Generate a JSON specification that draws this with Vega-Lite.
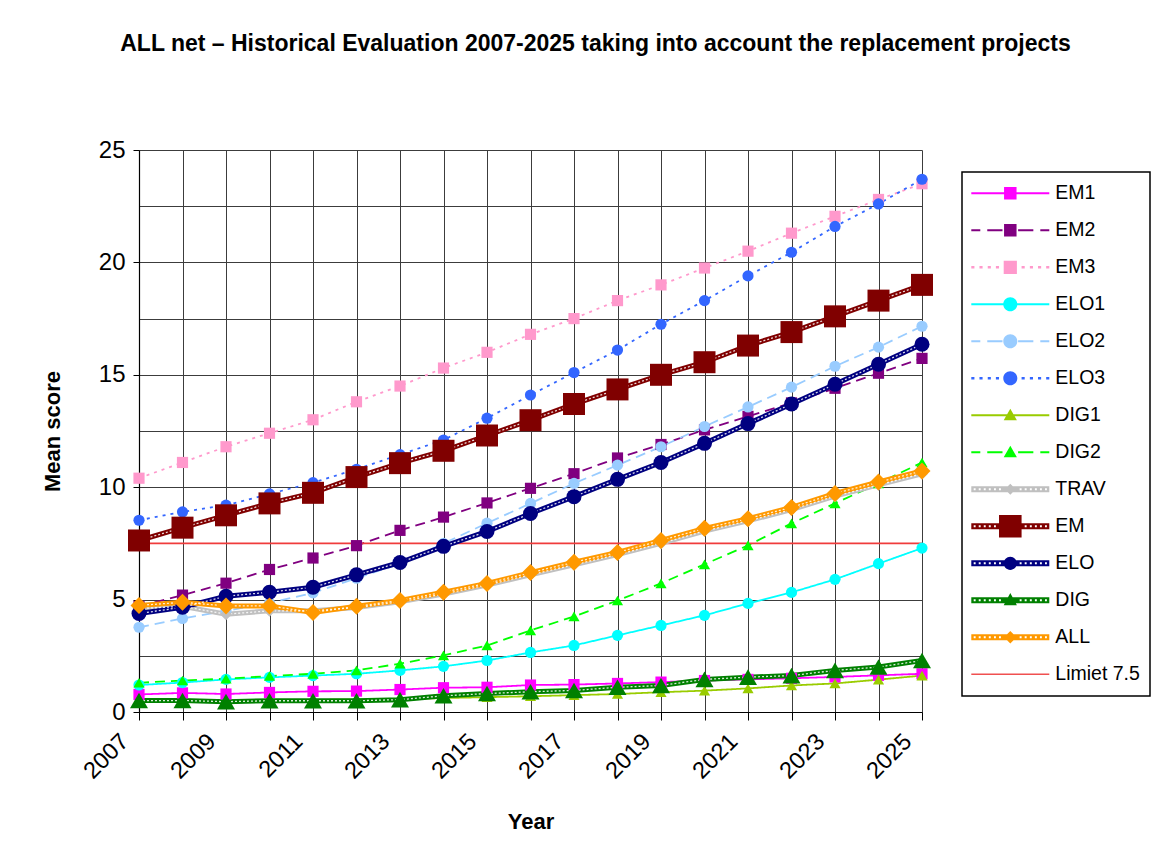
{
  "$schema": "https://vega.github.io/schema/vega-lite/v6.json",
  "width": 783,
  "height": 562,
  "autosize": "none",
  "padding": {"left": 139, "top": 150, "right": 236, "bottom": 150},
  "background": "white",
  "title": {
    "text": "ALL net – Historical Evaluation 2007-2025 taking into account the replacement projects",
    "font": "Liberation Sans",
    "fontSize": 23,
    "fontWeight": "bold",
    "color": "black",
    "anchor": "middle",
    "baseline": "alphabetic",
    "offset": 64,
    "dx": 65
  },
  "data": {
    "values": [
      {"year": 2007, "EM1": 0.78, "EM2": 4.7, "EM3": 10.4, "ELO1": 1.2, "ELO2": 3.77, "ELO3": 8.53, "DIG1": 0.48, "DIG2": 1.3, "TRAV": 4.6, "EM": 7.63, "ELO": 4.38, "DIG": 0.51, "ALL": 4.74},
      {"year": 2008, "EM1": 0.85, "EM2": 5.2, "EM3": 11.1, "ELO1": 1.31, "ELO2": 4.16, "ELO3": 8.9, "DIG1": 0.5, "DIG2": 1.4, "TRAV": 4.7, "EM": 8.2, "ELO": 4.66, "DIG": 0.51, "ALL": 4.88},
      {"year": 2009, "EM1": 0.8, "EM2": 5.73, "EM3": 11.8, "ELO1": 1.45, "ELO2": 4.5, "ELO3": 9.2, "DIG1": 0.5, "DIG2": 1.48, "TRAV": 4.35, "EM": 8.75, "ELO": 5.15, "DIG": 0.46, "ALL": 4.72},
      {"year": 2010, "EM1": 0.87, "EM2": 6.34, "EM3": 12.4, "ELO1": 1.54, "ELO2": 4.85, "ELO3": 9.7, "DIG1": 0.52, "DIG2": 1.6, "TRAV": 4.5, "EM": 9.28, "ELO": 5.33, "DIG": 0.5, "ALL": 4.72},
      {"year": 2011, "EM1": 0.92, "EM2": 6.85, "EM3": 13.0, "ELO1": 1.62, "ELO2": 5.3, "ELO3": 10.2, "DIG1": 0.54, "DIG2": 1.7, "TRAV": 4.5, "EM": 9.75, "ELO": 5.55, "DIG": 0.5, "ALL": 4.43},
      {"year": 2012, "EM1": 0.93, "EM2": 7.4, "EM3": 13.8, "ELO1": 1.7, "ELO2": 5.95, "ELO3": 10.8, "DIG1": 0.55, "DIG2": 1.85, "TRAV": 4.65, "EM": 10.45, "ELO": 6.1, "DIG": 0.5, "ALL": 4.7},
      {"year": 2013, "EM1": 1.0, "EM2": 8.08, "EM3": 14.5, "ELO1": 1.85, "ELO2": 6.6, "ELO3": 11.45, "DIG1": 0.58, "DIG2": 2.15, "TRAV": 4.9, "EM": 11.07, "ELO": 6.65, "DIG": 0.55, "ALL": 4.96},
      {"year": 2014, "EM1": 1.08, "EM2": 8.67, "EM3": 15.3, "ELO1": 2.03, "ELO2": 7.5, "ELO3": 12.1, "DIG1": 0.62, "DIG2": 2.52, "TRAV": 5.25, "EM": 11.62, "ELO": 7.37, "DIG": 0.72, "ALL": 5.33},
      {"year": 2015, "EM1": 1.1, "EM2": 9.3, "EM3": 16.0, "ELO1": 2.29, "ELO2": 8.4, "ELO3": 13.07, "DIG1": 0.66, "DIG2": 2.96, "TRAV": 5.65, "EM": 12.3, "ELO": 8.03, "DIG": 0.82, "ALL": 5.72},
      {"year": 2016, "EM1": 1.2, "EM2": 9.95, "EM3": 16.8, "ELO1": 2.65, "ELO2": 9.28, "ELO3": 14.1, "DIG1": 0.7, "DIG2": 3.63, "TRAV": 6.1, "EM": 12.98, "ELO": 8.83, "DIG": 0.9, "ALL": 6.2},
      {"year": 2017, "EM1": 1.22, "EM2": 10.6, "EM3": 17.5, "ELO1": 2.96, "ELO2": 10.17, "ELO3": 15.1, "DIG1": 0.75, "DIG2": 4.25, "TRAV": 6.55, "EM": 13.7, "ELO": 9.58, "DIG": 0.96, "ALL": 6.66},
      {"year": 2018, "EM1": 1.27, "EM2": 11.3, "EM3": 18.3, "ELO1": 3.41, "ELO2": 10.98, "ELO3": 16.1, "DIG1": 0.8, "DIG2": 4.96, "TRAV": 7.0, "EM": 14.35, "ELO": 10.35, "DIG": 1.1, "ALL": 7.1},
      {"year": 2019, "EM1": 1.33, "EM2": 11.9, "EM3": 19.0, "ELO1": 3.85, "ELO2": 11.8, "ELO3": 17.25, "DIG1": 0.88, "DIG2": 5.72, "TRAV": 7.5, "EM": 15.0, "ELO": 11.1, "DIG": 1.18, "ALL": 7.63},
      {"year": 2020, "EM1": 1.4, "EM2": 12.55, "EM3": 19.75, "ELO1": 4.3, "ELO2": 12.7, "ELO3": 18.3, "DIG1": 0.95, "DIG2": 6.57, "TRAV": 8.05, "EM": 15.56, "ELO": 11.95, "DIG": 1.45, "ALL": 8.17},
      {"year": 2021, "EM1": 1.45, "EM2": 13.15, "EM3": 20.5, "ELO1": 4.83, "ELO2": 13.57, "ELO3": 19.4, "DIG1": 1.05, "DIG2": 7.41, "TRAV": 8.5, "EM": 16.3, "ELO": 12.83, "DIG": 1.55, "ALL": 8.6},
      {"year": 2022, "EM1": 1.5, "EM2": 13.75, "EM3": 21.3, "ELO1": 5.32, "ELO2": 14.45, "ELO3": 20.45, "DIG1": 1.18, "DIG2": 8.39, "TRAV": 9.0, "EM": 16.9, "ELO": 13.7, "DIG": 1.62, "ALL": 9.1},
      {"year": 2023, "EM1": 1.56, "EM2": 14.4, "EM3": 22.05, "ELO1": 5.9, "ELO2": 15.38, "ELO3": 21.6, "DIG1": 1.27, "DIG2": 9.28, "TRAV": 9.6, "EM": 17.6, "ELO": 14.58, "DIG": 1.85, "ALL": 9.72},
      {"year": 2024, "EM1": 1.63, "EM2": 15.07, "EM3": 22.8, "ELO1": 6.6, "ELO2": 16.23, "ELO3": 22.6, "DIG1": 1.44, "DIG2": 10.17, "TRAV": 10.1, "EM": 18.3, "ELO": 15.47, "DIG": 2.0, "ALL": 10.23},
      {"year": 2025, "EM1": 1.7, "EM2": 15.73, "EM3": 23.5, "ELO1": 7.29, "ELO2": 17.16, "ELO3": 23.7, "DIG1": 1.62, "DIG2": 11.1, "TRAV": 10.6, "EM": 19.0, "ELO": 16.36, "DIG": 2.29, "ALL": 10.72}
    ]
  },
  "transform": [
    {"fold": ["EM1", "EM2", "EM3", "ELO1", "ELO2", "ELO3", "DIG1", "DIG2", "TRAV", "EM", "ELO", "DIG", "ALL"], "as": ["series", "value"]}
  ],
  "encoding": {
    "x": {
      "field": "year",
      "type": "quantitative",
      "scale": {"domain": [2007, 2025], "nice": false, "zero": false},
      "axis": {
        "title": "Year",
        "titleFontSize": 22,
        "titleFontWeight": "bold",
        "titleX": 391.5,
        "titleY": 109,
        "titleBaseline": "middle",
        "values": [2007, 2008, 2009, 2010, 2011, 2012, 2013, 2014, 2015, 2016, 2017, 2018, 2019, 2020, 2021, 2022, 2023, 2024, 2025],
        "format": "d",
        "labelExpr": "datum.value % 2 == 1 ? datum.label : ''",
        "labelAngle": -45,
        "labelAlign": "right",
        "labelBaseline": "top",
        "labelFontSize": 23.5,
        "labelOffset": -23,
        "labelPadding": 9,
        "labelFlush": false,
        "labelOverlap": false,
        "labelBound": false,
        "tickSize": 8,
        "grid": true
      }
    },
    "y": {
      "field": "value",
      "type": "quantitative",
      "scale": {"domain": [0, 25], "nice": false},
      "axis": {
        "title": "Mean score",
        "titleFontSize": 22,
        "titleFontWeight": "bold",
        "titleAngle": -90,
        "titleX": -87,
        "titleY": 281,
        "titleAlign": "center",
        "titleBaseline": "middle",
        "values": [0, 2.5, 5, 7.5, 10, 12.5, 15, 17.5, 20, 22.5, 25],
        "labelExpr": "datum.value % 5 == 0 ? datum.label : ''",
        "labelFontSize": 24,
        "labelPadding": 8,
        "labelOverlap": false,
        "labelFlush": false,
        "tickSize": 6,
        "tickOpacity": {"condition": {"test": "datum.value % 5 == 0", "value": 1}, "value": 0},
        "grid": true
      }
    }
  },
  "layer": [
    {
      "transform": [{"filter": {"field": "series", "oneOf": ["EM1", "EM2", "EM3", "ELO1", "ELO2", "ELO3", "DIG1", "DIG2"]}}],
      "mark": {"type": "line", "strokeWidth": 1.8},
      "encoding": {
        "color": {
          "field": "series", "type": "nominal", "legend": null,
          "scale": {"domain": ["EM1", "EM2", "EM3", "ELO1", "ELO2", "ELO3", "DIG1", "DIG2"],
                    "range": ["#FF00FF", "#800080", "#FF99CC", "#00FFFF", "#99CCFF", "#3366FF", "#99CC00", "#00FF00"]}
        },
        "strokeDash": {
          "field": "series", "type": "nominal", "legend": null,
          "scale": {"domain": ["EM1", "EM2", "EM3", "ELO1", "ELO2", "ELO3", "DIG1", "DIG2"],
                    "range": [[1, 0], [10, 6], [3, 5], [1, 0], [10, 6], [3, 5], [1, 0], [10, 6]]}
        }
      }
    },
    {
      "data": {"values": [{"year": 2007, "limit": 7.5}, {"year": 2025, "limit": 7.5}]},
      "mark": {"type": "line", "strokeWidth": 1.6, "color": "#F03C3C"},
      "encoding": {"y": {"field": "limit", "type": "quantitative"}}
    },
    {
      "transform": [{"filter": {"field": "series", "oneOf": ["TRAV", "EM", "ELO", "DIG", "ALL"]}}],
      "mark": {"type": "line", "strokeWidth": 5},
      "encoding": {
        "color": {
          "field": "series", "type": "nominal", "legend": null,
          "scale": {"domain": ["TRAV", "EM", "ELO", "DIG", "ALL"],
                    "range": ["#C0C0C0", "#800000", "#000080", "#008000", "#FF9900"]}
        }
      }
    },
    {
      "transform": [{"filter": {"field": "series", "oneOf": ["TRAV", "EM", "ELO", "DIG", "ALL"]}}],
      "mark": {"type": "line", "strokeWidth": 1.3, "strokeDash": [2, 2], "color": "white", "opacity": 0.85},
      "encoding": {"detail": {"field": "series", "type": "nominal"}}
    },
    {
      "transform": [{"filter": {"field": "series", "oneOf": ["EM1", "EM2", "EM3", "ELO1", "ELO2", "ELO3", "DIG1", "DIG2"]}}],
      "mark": {"type": "point", "filled": true, "opacity": 1, "size": 125},
      "encoding": {
        "color": {
          "field": "series", "type": "nominal", "legend": null,
          "scale": {"domain": ["EM1", "EM2", "EM3", "ELO1", "ELO2", "ELO3", "DIG1", "DIG2"],
                    "range": ["#FF00FF", "#800080", "#FF99CC", "#00FFFF", "#99CCFF", "#3366FF", "#99CC00", "#00FF00"]}
        },
        "shape": {
          "field": "series", "type": "nominal", "legend": null,
          "scale": {"domain": ["EM1", "EM2", "EM3", "ELO1", "ELO2", "ELO3", "DIG1", "DIG2"],
                    "range": ["square", "square", "square", "circle", "circle", "circle", "triangle-up", "triangle-up"]}
        }
      }
    },
    {
      "transform": [{"filter": {"field": "series", "equal": "TRAV"}}],
      "mark": {"type": "point", "filled": true, "opacity": 1, "shape": "diamond", "size": 144, "color": "#C0C0C0"}
    },
    {
      "transform": [{"filter": {"field": "series", "equal": "EM"}}],
      "mark": {"type": "point", "filled": true, "opacity": 1, "shape": "square", "size": 484, "color": "#800000"}
    },
    {
      "transform": [{"filter": {"field": "series", "equal": "ELO"}}],
      "mark": {"type": "point", "filled": true, "opacity": 1, "shape": "circle", "size": 225, "color": "#000080"}
    },
    {
      "transform": [{"filter": {"field": "series", "equal": "DIG"}}],
      "mark": {"type": "point", "filled": true, "opacity": 1, "shape": "triangle-up", "size": 324, "color": "#008000"}
    },
    {
      "transform": [{"filter": {"field": "series", "equal": "ALL"}}],
      "mark": {"type": "point", "filled": true, "opacity": 1, "shape": "diamond", "size": 289, "color": "#FF9900"}
    },
    {
      "transform": [{"filter": "datum.year < 0"}],
      "mark": {"type": "point", "filled": true, "opacity": 1},
      "encoding": {
        "color": {
          "field": "series", "type": "nominal",
          "scale": {"domain": ["EM1", "EM2", "EM3", "ELO1", "ELO2", "ELO3", "DIG1", "DIG2", "TRAV", "EM", "ELO", "DIG", "ALL", "Limiet 7.5"],
                    "range": ["#FF00FF", "#800080", "#FF99CC", "#00FFFF", "#99CCFF", "#3366FF", "#99CC00", "#00FF00", "#C0C0C0", "#800000", "#000080", "#008000", "#FF9900", "#F05050"]},
          "legend": {
            "title": null, "orient": "none", "legendX": 823, "legendY": 22,
            "padding": 9.3, "rowPadding": 13, "symbolSize": 576, "symbolStrokeWidth": 0, "symbolOpacity": 1,
            "labelFont": "Liberation Sans", "labelFontSize": 19.5, "labelColor": "black", "labelOffset": 60, "labelLimit": 0,
            "strokeColor": "black", "fillColor": "white"
          }
        },
        "shape": {
          "field": "series", "type": "nominal",
          "scale": {
            "domain": ["EM1", "EM2", "EM3", "ELO1", "ELO2", "ELO3", "DIG1", "DIG2", "TRAV", "EM", "ELO", "DIG", "ALL", "Limiet 7.5"],
            "range": [
              "M-1,-0.085H5.5V0.085H-1ZM1.73,-0.52H2.77V0.52H1.73ZM2.25,-0.98ZM2.25,0.98Z",
              "M-1,-0.085H-0.25V0.085H-1ZM0.33,-0.085H1.6V0.085H0.33ZM2.9,-0.085H4.17V0.085H2.9ZM4.75,-0.085H5.5V0.085H4.75ZM1.73,-0.52H2.77V0.52H1.73ZM2.25,-0.98ZM2.25,0.98Z",
              "M-1,-0.1H-0.74V0.1H-1ZM-0.32,-0.1H-0.06V0.1H-0.32ZM0.37,-0.1H0.63V0.1H0.37ZM1.05,-0.1H1.31V0.1H1.05ZM3.19,-0.1H3.45V0.1H3.19ZM3.88,-0.1H4.14V0.1H3.88ZM4.56,-0.1H4.82V0.1H4.56ZM5.24,-0.1H5.5V0.1H5.24ZM1.7,-0.55H2.8V0.55H1.7ZM2.25,-0.98ZM2.25,0.98Z",
              "M-1,-0.085H5.5V0.085H-1ZM1.665,0A0.585,0.585 0 1,1 2.835,0A0.585,0.585 0 1,1 1.665,0ZM2.25,-0.98ZM2.25,0.98Z",
              "M-1,-0.085H-0.25V0.085H-1ZM0.33,-0.085H1.6V0.085H0.33ZM2.9,-0.085H4.17V0.085H2.9ZM4.75,-0.085H5.5V0.085H4.75ZM1.665,0A0.585,0.585 0 1,1 2.835,0A0.585,0.585 0 1,1 1.665,0ZM2.25,-0.98ZM2.25,0.98Z",
              "M-1,-0.1H-0.74V0.1H-1ZM-0.32,-0.1H-0.06V0.1H-0.32ZM0.37,-0.1H0.63V0.1H0.37ZM1.05,-0.1H1.31V0.1H1.05ZM3.19,-0.1H3.45V0.1H3.19ZM3.88,-0.1H4.14V0.1H3.88ZM4.56,-0.1H4.82V0.1H4.56ZM5.24,-0.1H5.5V0.1H5.24ZM1.665,0A0.585,0.585 0 1,1 2.835,0A0.585,0.585 0 1,1 1.665,0ZM2.25,-0.98ZM2.25,0.98Z",
              "M-1,-0.085H5.5V0.085H-1ZM2.25,-0.55L2.8,0.42L1.7,0.42ZM2.25,-0.98ZM2.25,0.98Z",
              "M-1,-0.085H-0.25V0.085H-1ZM0.33,-0.085H1.6V0.085H0.33ZM2.9,-0.085H4.17V0.085H2.9ZM4.75,-0.085H5.5V0.085H4.75ZM2.25,-0.55L2.8,0.42L1.7,0.42ZM2.25,-0.98ZM2.25,0.98Z",
              "M-1,-0.25H5.5V0.25H-1ZM-0.8,-0.08V0.08H-0.64V-0.08ZM-0.38,-0.08V0.08H-0.22V-0.08ZM0.04,-0.08V0.08H0.2V-0.08ZM0.46,-0.08V0.08H0.62V-0.08ZM0.89,-0.08V0.08H1.05V-0.08ZM1.31,-0.08V0.08H1.47V-0.08ZM3.03,-0.08V0.08H3.19V-0.08ZM3.45,-0.08V0.08H3.61V-0.08ZM3.88,-0.08V0.08H4.04V-0.08ZM4.3,-0.08V0.08H4.46V-0.08ZM4.72,-0.08V0.08H4.88V-0.08ZM5.14,-0.08V0.08H5.3V-0.08ZM2.25,-0.46L2.71,0L2.25,0.46L1.79,0ZM2.25,-0.98ZM2.25,0.98Z",
              "M-1,-0.25H5.5V0.25H-1ZM-0.8,-0.08V0.08H-0.64V-0.08ZM-0.38,-0.08V0.08H-0.22V-0.08ZM0.04,-0.08V0.08H0.2V-0.08ZM0.46,-0.08V0.08H0.62V-0.08ZM0.89,-0.08V0.08H1.05V-0.08ZM1.31,-0.08V0.08H1.47V-0.08ZM3.03,-0.08V0.08H3.19V-0.08ZM3.45,-0.08V0.08H3.61V-0.08ZM3.88,-0.08V0.08H4.04V-0.08ZM4.3,-0.08V0.08H4.46V-0.08ZM4.72,-0.08V0.08H4.88V-0.08ZM5.14,-0.08V0.08H5.3V-0.08ZM1.31,-0.94H3.19V0.94H1.31ZM2.25,-0.98ZM2.25,0.98Z",
              "M-1,-0.25H5.5V0.25H-1ZM-0.8,-0.08V0.08H-0.64V-0.08ZM-0.38,-0.08V0.08H-0.22V-0.08ZM0.04,-0.08V0.08H0.2V-0.08ZM0.46,-0.08V0.08H0.62V-0.08ZM0.89,-0.08V0.08H1.05V-0.08ZM1.31,-0.08V0.08H1.47V-0.08ZM3.03,-0.08V0.08H3.19V-0.08ZM3.45,-0.08V0.08H3.61V-0.08ZM3.88,-0.08V0.08H4.04V-0.08ZM4.3,-0.08V0.08H4.46V-0.08ZM4.72,-0.08V0.08H4.88V-0.08ZM5.14,-0.08V0.08H5.3V-0.08ZM1.7,0A0.55,0.55 0 1,1 2.8,0A0.55,0.55 0 1,1 1.7,0ZM2.25,-0.98ZM2.25,0.98Z",
              "M-1,-0.25H5.5V0.25H-1ZM-0.8,-0.08V0.08H-0.64V-0.08ZM-0.38,-0.08V0.08H-0.22V-0.08ZM0.04,-0.08V0.08H0.2V-0.08ZM0.46,-0.08V0.08H0.62V-0.08ZM0.89,-0.08V0.08H1.05V-0.08ZM1.31,-0.08V0.08H1.47V-0.08ZM3.03,-0.08V0.08H3.19V-0.08ZM3.45,-0.08V0.08H3.61V-0.08ZM3.88,-0.08V0.08H4.04V-0.08ZM4.3,-0.08V0.08H4.46V-0.08ZM4.72,-0.08V0.08H4.88V-0.08ZM5.14,-0.08V0.08H5.3V-0.08ZM2.25,-0.6L2.8,0.42L1.7,0.42ZM2.25,-0.98ZM2.25,0.98Z",
              "M-1,-0.25H5.5V0.25H-1ZM-0.8,-0.08V0.08H-0.64V-0.08ZM-0.38,-0.08V0.08H-0.22V-0.08ZM0.04,-0.08V0.08H0.2V-0.08ZM0.46,-0.08V0.08H0.62V-0.08ZM0.89,-0.08V0.08H1.05V-0.08ZM1.31,-0.08V0.08H1.47V-0.08ZM3.03,-0.08V0.08H3.19V-0.08ZM3.45,-0.08V0.08H3.61V-0.08ZM3.88,-0.08V0.08H4.04V-0.08ZM4.3,-0.08V0.08H4.46V-0.08ZM4.72,-0.08V0.08H4.88V-0.08ZM5.14,-0.08V0.08H5.3V-0.08ZM2.25,-0.52L2.77,0L2.25,0.52L1.73,0ZM2.25,-0.98ZM2.25,0.98Z",
              "M-1,-0.065H5.5V0.065H-1ZM2.25,-0.98ZM2.25,0.98Z"
            ]
          },
          "legend": {
            "title": null, "orient": "none", "legendX": 823, "legendY": 22,
            "padding": 9.3, "rowPadding": 13, "symbolSize": 576, "symbolStrokeWidth": 0, "symbolOpacity": 1,
            "labelFont": "Liberation Sans", "labelFontSize": 19.5, "labelColor": "black", "labelOffset": 60, "labelLimit": 0,
            "strokeColor": "black", "fillColor": "white"
          }
        }
      }
    }
  ],
  "resolve": {"scale": {"color": "independent", "shape": "independent", "strokeDash": "independent"}},
  "config": {
    "font": "Liberation Sans",
    "view": {"stroke": null},
    "axis": {
      "labelColor": "black",
      "titleColor": "black",
      "labelFont": "Liberation Sans",
      "titleFont": "Liberation Sans",
      "domainColor": "black",
      "domainWidth": 1.2,
      "tickColor": "black",
      "tickWidth": 1,
      "gridColor": "#3c3c3c",
      "gridWidth": 1
    },
    "legend": {"strokeWidth": 1.5}
  }
}
